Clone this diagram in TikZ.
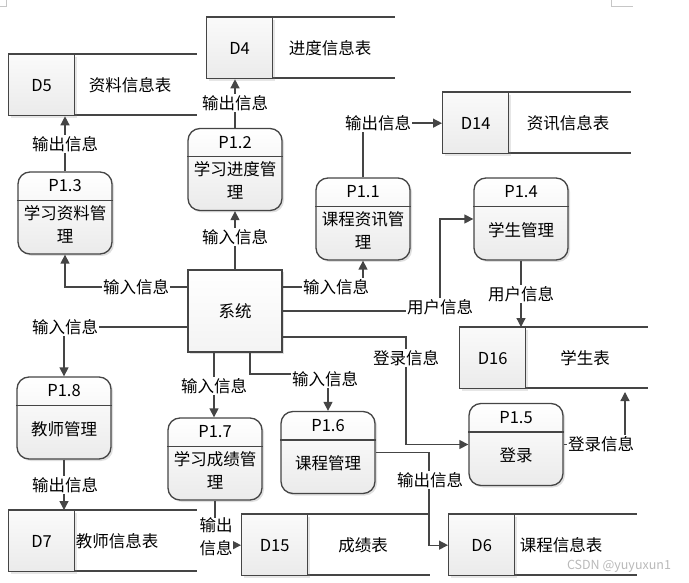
\documentclass[tikz,border=0pt]{standalone}
\usepackage{fontspec}
\setmainfont{Noto Sans CJK SC}
\usetikzlibrary{arrows.meta,shadows,calc}
\definecolor{ln}{HTML}{454545}
\newcommand\tfont{\fontsize{16.5}{23}\selectfont}
\tikzset{
  conn/.style={draw=ln, line width=1.3pt, -{Triangle[length=9pt,width=9pt]}},
  plain/.style={draw=ln, line width=1.3pt},
  lbl/.style={fill=white, inner sep=1pt, font=\tfont, text=black},
  txt/.style={font=\tfont, text=black, inner sep=1pt},
  procbox/.style={draw=ln, line width=1.3pt, rounded corners=12pt, minimum width=94pt, minimum height=82pt, top color=white, bottom color=gray!16, drop shadow={opacity=0.25, shadow xshift=2pt, shadow yshift=-2pt, fill=gray}},
  sysbox/.style={draw=ln, line width=1.3pt, minimum width=94pt, minimum height=82pt, top color=white, bottom color=gray!9, drop shadow={opacity=0.25, shadow xshift=2pt, shadow yshift=-2pt, fill=gray}, font=\tfont},
  idbox/.style={draw=ln, line width=1.3pt, minimum width=66pt, minimum height=61pt, top color=gray!4, bottom color=gray!16, font=\tfont, drop shadow={opacity=0.2, shadow xshift=2pt, shadow yshift=-2pt, fill=gray}},
}
\newcommand\proc[5]{%
  \node[procbox] (#1) at (#2,#3) {};
  \draw[plain] ($(#1.north west)+(0,29)$) -- ($(#1.north east)+(0,29)$);
  \node[txt] (#1h) at ($(#1.north)+(0,14.5)$) {#4};
  \node[txt, align=center] (#1b) at ($(#1.south)+(0,-30.5)$) {#5};
}
\newcommand\store[6]{%
  \draw[plain] (#2,#3) -- ++(189,0);
  \draw[plain] (#2,#3+61) -- ++(189,0);
  \node[idbox, anchor=north west] (#1) at (#2,#3) {#4};
  \node[txt] (#1l) at ($(#1.west)+(#6,0)$) {#5};
}
\begin{document}
\begin{tikzpicture}[x=1pt,y=-1pt]
\useasboundingbox (0,0) rectangle (689,583);
% page corner marks
\draw[gray!45, line width=0.6pt] (0,6.5) -- (6.5,6.5) -- (6.5,0);
\draw[gray!45, line width=0.6pt] (611,0) -- (611,6.5) -- (633,6.5);

% data stores
\store{D4}{206}{17}{D4}{进度信息表}{124}
\store{D5}{8}{54}{D5}{资料信息表}{122}
\store{D14}{442}{92}{D14}{资讯信息表}{126}
\store{D16}{459}{327}{D16}{学生表}{126}
\store{D15}{241}{514}{D15}{成绩表}{122}
\store{D6}{448}{514}{D6}{课程信息表}{113}
\store{D7}{8}{510}{D7}{教师信息表}{109}

% processes
\proc{P13}{65}{213}{P1.3}{学习资料管\\理}
\proc{P12}{235}{169.5}{P1.2}{学习进度管\\理}
\proc{P11}{363}{219}{P1.1}{课程资讯管\\理}
\proc{P14}{521}{219}{P1.4}{学生管理}
\proc{P18}{64}{418}{P1.8}{教师管理}
\proc{P17}{215}{459}{P1.7}{学习成绩管\\理}
\proc{P16}{328}{452.5}{P1.6}{课程管理}
\proc{P15}{516}{444.5}{P1.5}{登录}

% system
\node[sysbox] (sys) at (235,311) {系统};

% helper coordinates
\coordinate (k7) at (440,311);
\coordinate (k9) at (406,337);
\coordinate (k10) at (625,392);
\coordinate (k14) at (328,374);
\coordinate (k16) at (429,452.5);

% connectors
\draw[conn] ([yshift=24pt]sys.west) -| (P13.south);
\draw[conn] (sys.north) -- (P12.south);
\draw[conn] (P12.north) -- (P12.north |- D4.south);
\draw[conn] (P13.north) -- (P13.north |- D5.south);
\draw[conn] ([yshift=24pt]sys.east) -| (P11.south);
\draw[conn] (P11.north) |- (D14.west);
\draw[conn] (sys.east) -- (k7) |- (P14.west);
\draw[conn] (P14.south) -- (P14.south |- D16.north);
\draw[conn] ([yshift=-26pt]sys.east) -- (k9) |- (P15.west);
\draw[conn] (P15.east) -| (k10);
\draw[conn] ([yshift=-16pt]sys.west) -| (P18.north);
\draw[conn] (P18.south) -- (P18.south |- D7.north);
\draw[conn] ([xshift=-21pt]sys.south) -- ([xshift=-21pt]sys.south |- P17.north);
\draw[conn] ([xshift=15pt]sys.south) |- (k14) -- (P16.north);
\draw[conn] (P17.south) |- (D15.west);
\draw[conn] (P16.east) -- (k16) |- (D6.west);

% labels
\node[lbl] (l1) at (136,287) {输入信息};
\node[lbl] (l2) at (235,237) {输入信息};
\node[lbl] (l3) at (235,103) {输出信息};
\node[lbl] (l4) at (65,144) {输出信息};
\node[lbl] (l5) at (336,287) {输入信息};
\node[lbl] (l6) at (378,123) {输出信息};
\node[lbl] (l7) at (440,307) {用户信息};
\node[lbl] (l8) at (521,294) {用户信息};
\node[lbl] (l9) at (406,358) {登录信息};
\node[lbl] (l10) at (601,444) {登录信息};
\node[lbl] (l11) at (65,327) {输入信息};
\node[lbl] (l12) at (65,485) {输出信息};
\node[lbl] (l13) at (214,386) {输入信息};
\node[lbl] (l14) at (325,379) {输入信息};
\node[lbl, align=center, inner sep=0pt] (l15) at (216,537) {输出\\信息};
\node[lbl] (l16) at (430,480) {输出信息};

% watermark
\node[font=\fontsize{12.5}{14}\selectfont, text=gray!55, inner sep=0pt] (wm) at (619,566) {CSDN @yuyuxun1};
\end{tikzpicture}
\end{document}
